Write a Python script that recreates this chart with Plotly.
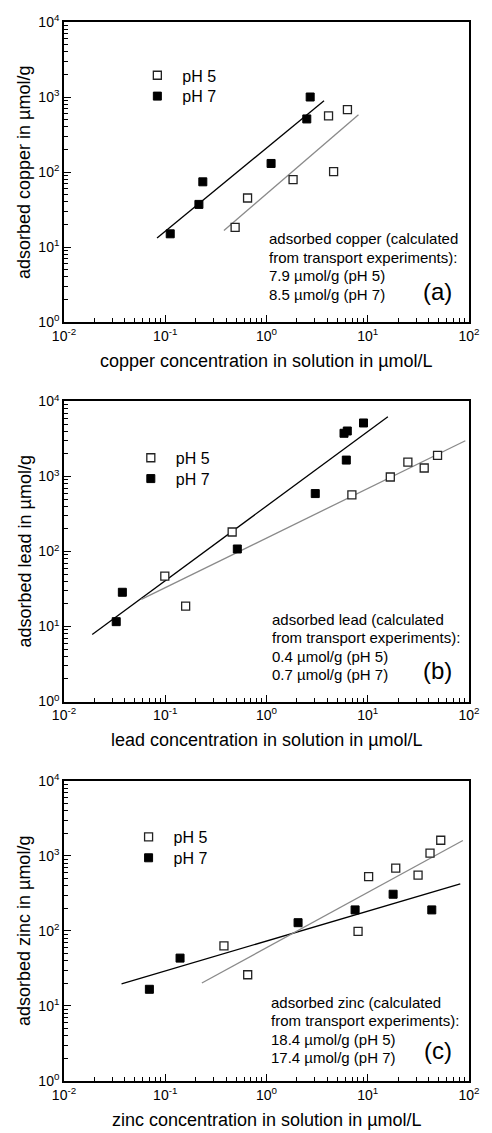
import numpy as np
import plotly.graph_objects as go
from plotly.subplots import make_subplots

# ---------------- data ----------------
metals = ["copper", "lead", "zinc"]
panel_tags = ["(a)", "(b)", "(c)"]
calc_ph5 = ["7.9", "0.4", "18.4"]
calc_ph7 = ["8.5", "0.7", "17.4"]

cu_ph5_x = [0.49, 0.65, 1.83, 4.1, 4.6, 6.3]
cu_ph5_y = [18.3, 45, 79, 560, 101, 680]
cu_ph7_x = [0.112, 0.215, 0.235, 1.11, 2.5, 2.7]
cu_ph7_y = [15, 37, 74, 130, 510, 1000]

pb_ph5_x = [0.099, 0.159, 0.458, 6.97, 16.7, 24.9, 36.1, 48.9]
pb_ph5_y = [47, 18.7, 182, 569, 985, 1555, 1297, 1910]
pb_ph7_x = [0.0328, 0.0377, 0.515, 3.03, 5.83, 6.14, 6.28, 9.08]
pb_ph7_y = [11.6, 28.6, 108, 592, 3770, 1655, 4040, 5170]

zn_ph5_x = [0.38, 0.652, 8.02, 10.2, 18.9, 31.4, 41.2, 52.6]
zn_ph5_y = [63.3, 26.1, 99, 530, 689, 557, 1090, 1620]
zn_ph7_x = [0.0697, 0.14, 2.05, 7.5, 17.8, 42.9]
zn_ph7_y = [16.7, 43.5, 129, 191, 309, 191]

# Freundlich fits q = K * c^n over [c_min, c_max] (copper, lead, zinc)
fit_K_ph5 = [51.0, 151.0, 59.8]
fit_n_ph5 = [1.162, 0.661, 0.737]
fit_cmin_ph5 = [0.38, 0.058, 0.23]
fit_cmax_ph5 = [8.1, 92.0, 87.0]
fit_K_ph7 = [209.0, 403.0, 73.5]
fit_n_ph7 = [1.111, 0.994, 0.398]
fit_cmin_ph7 = [0.083, 0.019, 0.037]
fit_cmax_ph7 = [3.7, 15.8, 82.0]

x_tick_vals = [0.01, 0.1, 1, 10, 100]
x_tick_text = ["10<sup>-2</sup>", "10<sup>-1</sup>", "10<sup>0</sup>", "10<sup>1</sup>", "10<sup>2</sup>"]
y_tick_vals = [1, 10, 100, 1000, 10000]
y_tick_text = ["10<sup>0</sup>", "10<sup>1</sup>", "10<sup>2</sup>", "10<sup>3</sup>", "10<sup>4</sup>"]

ph5_x = [cu_ph5_x, pb_ph5_x, zn_ph5_x]
ph5_y = [cu_ph5_y, pb_ph5_y, zn_ph5_y]
ph7_x = [cu_ph7_x, pb_ph7_x, zn_ph7_x]
ph7_y = [cu_ph7_y, pb_ph7_y, zn_ph7_y]

# ---------------- layout geometry (pixels) ----------------
W, H = 492, 1133
L, R = 64, 480
TOP, BOT = 15, 1081
panel_top = [15, 397, 779]
panel_h = 302

def fx(px):
    return (px - L) / (R - L)

def fy(py):
    return (BOT - py) / (BOT - TOP)

FONT = "Arial, Liberation Sans, Helvetica, sans-serif"

fig = make_subplots(rows=3, cols=1)

def fit_line(K, n, cmin, cmax):
    c = np.array([cmin, cmax])
    return c, K * c ** n

minor_x = [m * 10.0 ** e for e in range(-2, 2) for m in range(2, 10)]
minor_y = [m * 10.0 ** e for e in range(0, 4) for m in range(2, 10)]

annotations = []
legend_sym_x = [156.7, 150, 147.7]
legend_rel_y = [58.3, 61.3, 61]
legend_step = 21
note_x = [272.3, 276, 274.3]
note_rel_y = [218, 219, 222.7]

def legend_id(n):
    return "legend" if n == 1 else f"legend{n}"

for i in range(3):
    row = i + 1
    lg5 = legend_id(2 * i + 1)
    lg7 = legend_id(2 * i + 2)
    # fit lines
    cx, cy = fit_line(fit_K_ph7[i], fit_n_ph7[i], fit_cmin_ph7[i], fit_cmax_ph7[i])
    fig.add_trace(go.Scatter(x=cx, y=cy, mode="lines", line=dict(color="black", width=1.3),
                             showlegend=False, hoverinfo="skip"), row=row, col=1)
    cx, cy = fit_line(fit_K_ph5[i], fit_n_ph5[i], fit_cmin_ph5[i], fit_cmax_ph5[i])
    fig.add_trace(go.Scatter(x=cx, y=cy, mode="lines", line=dict(color="#8a8a8a", width=1.3),
                             showlegend=False, hoverinfo="skip"), row=row, col=1)
    # measured points
    fig.add_trace(go.Scatter(x=ph5_x[i], y=ph5_y[i], mode="markers", name="pH 5", legend=lg5,
                             marker=dict(symbol="square", size=8, color="white",
                                         line=dict(color="#222", width=1.3))),
                  row=row, col=1)
    fig.add_trace(go.Scatter(x=ph7_x[i], y=ph7_y[i], mode="markers", name="pH 7", legend=lg7,
                             marker=dict(symbol="square", size=8, color="black",
                                         line=dict(color="black", width=1))),
                  row=row, col=1)

    T = panel_top[i]
    B = T + panel_h
    dom = [fy(B), fy(T)]
    axis_common = dict(
        type="log", showline=True, linecolor="black", linewidth=1.6, mirror=True,
        showgrid=False, zeroline=False, ticks="inside", ticklen=7, tickwidth=1.2,
        tickcolor="black", tickfont=dict(family=FONT, size=14, color="black"),
        minor=dict(ticks="inside", ticklen=4, tickwidth=1, tickcolor="black", showgrid=False),
    )
    fig.update_xaxes(range=[-2, 2], tickvals=x_tick_vals, ticktext=x_tick_text,
                     domain=[0, 1], row=row, col=1, **axis_common)
    fig.update_xaxes(minor_tickvals=minor_x, row=row, col=1)
    fig.update_yaxes(range=[0, 4], tickvals=y_tick_vals, ticktext=y_tick_text,
                     domain=dom, row=row, col=1, **axis_common)
    fig.update_yaxes(minor_tickvals=minor_y, row=row, col=1)

    # axis titles
    annotations.append(dict(text=f"{metals[i]} concentration in solution in µmol/L",
                            x=0.5, y=fy(B + 39), xref="paper", yref="paper",
                            xanchor="center", yanchor="middle", showarrow=False,
                            font=dict(family=FONT, size=18, color="black")))
    annotations.append(dict(text=f"adsorbed {metals[i]} in µmol/g", textangle=-90,
                            x=fx(23), y=fy(T + panel_h / 2), xref="paper", yref="paper",
                            xanchor="center", yanchor="middle", showarrow=False,
                            font=dict(family=FONT, size=18, color="black")))
    # note block
    lines = [f"adsorbed {metals[i]} (calculated",
             "from transport experiments):",
             f"{calc_ph5[i]} µmol/g (pH 5)",
             f"{calc_ph7[i]} µmol/g (pH 7)"]
    for k, t in enumerate(lines):
        annotations.append(dict(text=t, x=fx(note_x[i]), y=fy(T + note_rel_y[i] + 18.7 * k),
                                xref="paper", yref="paper", xanchor="left", yanchor="middle",
                                showarrow=False, font=dict(family=FONT, size=15, color="black")))
    annotations.append(dict(text=panel_tags[i], x=fx(448), y=fy(T + 271),
                            xref="paper", yref="paper", xanchor="center", yanchor="middle",
                            showarrow=False, font=dict(family=FONT, size=24, color="black")))

    # one legend box per entry so the two rows sit at their own positions
    for k, lg in enumerate([lg5, lg7]):
        cy_px = T + legend_rel_y[i] + legend_step * k
        fig.update_layout(**{lg: dict(x=fx(legend_sym_x[i] - 22.5), y=fy(cy_px - 21.7),
                                      xanchor="left", yanchor="top", bgcolor="rgba(0,0,0,0)",
                                      itemwidth=40,
                                      font=dict(family=FONT, size=16, color="black"))})

fig.update_layout(
    width=W, height=H, margin=dict(l=L, r=W - R, t=TOP, b=H - BOT),
    paper_bgcolor="white", plot_bgcolor="white",
    annotations=annotations, showlegend=True,
    font=dict(family=FONT, color="black"),
)

fig.write_html("out.html")
